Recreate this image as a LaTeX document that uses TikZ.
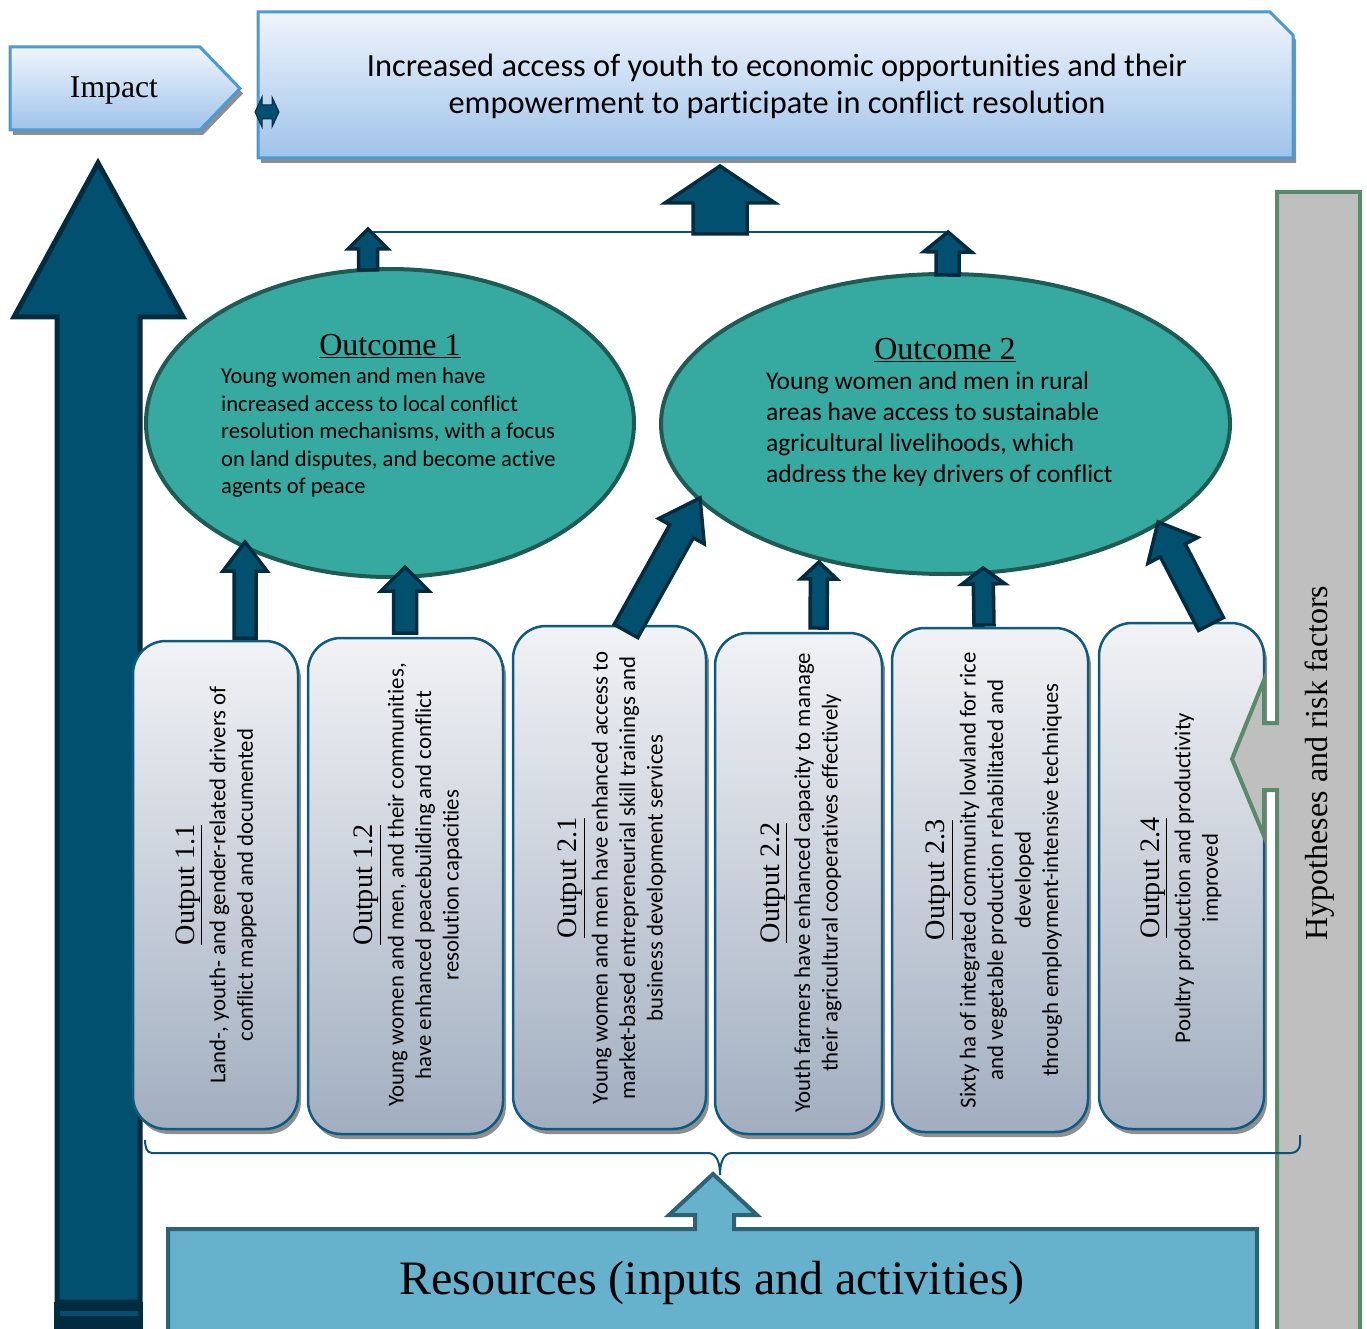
\documentclass[tikz,border=0pt]{standalone}
\usepackage{fontspec}
\setmainfont{Liberation Serif}
\newfontfamily\bodysans[Ligatures=NoCommon]{Carlito}
\usetikzlibrary{calc,shapes.geometric,shadows}

\definecolor{navyfill}{HTML}{02506F}
\definecolor{navyline}{HTML}{012B3E}
\definecolor{ovalfill}{HTML}{36AAA0}
\definecolor{ovalline}{HTML}{1D5B53}
\definecolor{boxtop}{HTML}{F1F2F5}
\definecolor{boxbottom}{HTML}{A1AEC0}
\definecolor{boxline}{HTML}{0E5A80}
\definecolor{goaltop}{HTML}{F0F5FC}
\definecolor{goalbottom}{HTML}{9FC3EA}
\definecolor{goalline}{HTML}{4A9AD4}
\definecolor{resfill}{HTML}{66B1CB}
\definecolor{resline}{HTML}{2D6274}
\definecolor{riskfill}{HTML}{BFBFBF}
\definecolor{riskline}{HTML}{5B8A6B}
\definecolor{shadegray}{HTML}{8E8E8E}
\definecolor{linkblue}{HTML}{0B5277}

% block arrow: base point, tip point, half shaft width, half head width, head length
\newcommand{\liftarrow}[5]{%
  \coordinate (la-h) at ($(#2)!#5!(#1)$);
  \draw[liftarrow] ($(#1)!#3!90:(#2)$) -- ($(la-h)!#3!90:(#2)$) -- ($(la-h)!#4!90:(#2)$) -- (#2)
    -- ($(la-h)!#4!-90:(#2)$) -- ($(la-h)!#3!-90:(#2)$) -- ($(#1)!#3!-90:(#2)$) -- cycle;
}
\newcommand{\outtitle}[1]{{\rmfamily\fontsize{28.2}{31}\selectfont\underline{#1}}}
\newcommand{\ovaltitle}[1]{{\rmfamily\fontsize{32}{35}\selectfont\underline{#1}}}

\tikzset{
  liftarrow/.style={fill=navyfill, draw=navyline, line width=3.5pt, line join=miter},
  flatshadow/.style={drop shadow={shadow xshift=3pt, shadow yshift=-5pt, fill=shadegray, opacity=1}},
  outbox/.style={rectangle, rounded corners=33pt, top color=boxtop, bottom color=boxbottom,
    draw=boxline, line width=2.5pt, flatshadow, inner sep=0pt},
  outtext/.style={rotate=90, align=center, inner sep=0pt,
    font=\bodysans\fontsize{22.8}{27.5}\selectfont},
  oval/.style={ellipse, fill=ovalfill, draw=ovalline, line width=4pt, inner sep=0pt},
  ovaltext/.style={align=left, anchor=west, inner sep=0pt},
}

\begin{document}
\begin{tikzpicture}[x=1pt, y=-1pt]
\useasboundingbox (0,0) rectangle (1367,1329);

% long impact arrow on the left
\draw[fill=navyfill, draw=navyline, line width=5pt, line join=miter]
  (57,1302) -- (57,317) -- (14,317) -- (98,163) -- (183,317) -- (140,317) -- (140,1302) -- cycle;
\fill[navyline] (54,1302) rectangle (143,1329);
\fill[navyfill] (60,1311) rectangle (138,1316);

% goal banner
\path[top color=goaltop, bottom color=goalbottom, draw=goalline, line width=3pt, flatshadow]
  (258,12) -- (1270,12) -- (1293,35) -- (1293,158) -- (258,158) -- cycle;
\node[align=center, inner sep=0pt, font=\bodysans\fontsize{32.4}{37}\selectfont] (goal) at (777,86)
  {Increased access of youth to economic opportunities and their\\
   empowerment to participate in conflict resolution};

% impact label
\path[top color=goaltop, bottom color=goalbottom, draw=goalline, line width=3pt, flatshadow]
  (10,47) -- (200,47) -- (240,88.5) -- (200,130) -- (10,130) -- cycle;
\node[inner sep=0pt, font=\fontsize{31.7}{35}\selectfont] (impact) at (114,90) {Impact};

% small double-headed marker at the banner edge
\coordinate (dbl) at (267,112);
\draw[fill=navyfill, draw=navyline, line width=1pt]
  ($(dbl)+(-12,0)$) -- ($(dbl)+(-5,-15)$) -- ($(dbl)+(-5,-7)$) -- ($(dbl)+(5,-7)$) -- ($(dbl)+(5,-15)$)
  -- ($(dbl)+(12,0)$) -- ($(dbl)+(5,15)$) -- ($(dbl)+(5,7)$) -- ($(dbl)+(-5,7)$) -- ($(dbl)+(-5,15)$) -- cycle;

% outcomes
\node[oval, minimum width=488pt, minimum height=308pt] (oc1) at (390,423) {};
\node[oval, minimum width=569pt, minimum height=300pt] (oc2) at (945.5,424) {};

\node[inner sep=0pt] (oc1t) at (390,346) {\ovaltitle{Outcome 1}};
\node[ovaltext, font=\bodysans\fontsize{22.6}{27.5}\selectfont] (oc1b) at (221,433)
  {Young women and men have\\ increased access to local conflict\\ resolution mechanisms, with a focus\\
   on land disputes, and become active\\ agents of peace};
\node[inner sep=0pt] (oc2t) at (945,350) {\ovaltitle{Outcome 2}};
\node[ovaltext, font=\bodysans\fontsize{25.5}{31}\selectfont] (oc2b) at (766,429.5)
  {Young women and men in rural\\ areas have access to sustainable\\ agricultural livelihoods, which\\
   address the key drivers of conflict};

% outputs
\node[outbox, minimum width=165pt, minimum height=488pt] (o11) at (215.5,885) {};
\node[outbox, minimum width=195pt, minimum height=496pt] (o12) at (405.5,886) {};
\node[outbox, minimum width=193pt, minimum height=503pt] (o21) at (609.5,877.5) {};
\node[outbox, minimum width=167pt, minimum height=501pt] (o22) at (798.5,883.5) {};
\node[outbox, minimum width=196pt, minimum height=504pt] (o23) at (990,880) {};
\node[outbox, minimum width=165pt, minimum height=506pt] (o24) at (1181.5,876) {};

\node[outtext] (t11) at (216,885) {\outtitle{Output 1.1}\\[3.5pt]
  Land-, youth- and gender-related drivers of\\ conflict mapped and documented};
\node[outtext] (t12) at (408,885) {\outtitle{Output 1.2}\\[3.5pt]
  Young women and men, and their communities,\\ have enhanced peacebuilding and conflict\\ resolution capacities};
\node[outtext] (t21) at (612,878) {\outtitle{Output 2.1}\\[3.5pt]
  Young women and men have enhanced access to\\ market-based entrepreneurial skill trainings and\\ business development services};
\node[outtext] (t22) at (801,883) {\outtitle{Output 2.2}\\[3.5pt]
  Youth farmers have enhanced capacity to manage\\ their agricultural cooperatives effectively};
\node[outtext] (t23) at (994,880) {\outtitle{Output 2.3}\\[3.5pt]
  Sixty ha of integrated community lowland for rice\\ and vegetable production rehabilitated and\\ developed\\ through employment-intensive techniques};
\node[outtext] (t24) at (1181,878) {\outtitle{Output 2.4}\\[3.5pt]
  Poultry production and productivity\\ improved};

% arrow end points
\coordinate (a11s) at (245,638);  \coordinate (a11t) at (245,542);
\coordinate (a12s) at (405,633);  \coordinate (a12t) at (405,567);
\coordinate (a21s) at (626,631);  \coordinate (a21t) at (700,498);
\coordinate (a22s) at (818.5,628); \coordinate (a22t) at (819,562);
\coordinate (a23s) at (984,625);  \coordinate (a23t) at (983,568);
\coordinate (a24s) at (1211,624); \coordinate (a24t) at (1158,522);
\coordinate (u1s) at (368,270);   \coordinate (u1t) at (368,229);
\coordinate (u2s) at (947.5,275); \coordinate (u2t) at (948,232);
\coordinate (gs) at (720,234);    \coordinate (gt) at (720,166);

% link joining both outcomes
\draw[linkblue, line width=2.2pt] (u1t |- 0,232) -- (u2t |- 0,232);

\liftarrow{gs}{gt}{27pt}{55pt}{37pt}
\liftarrow{u1s}{u1t}{9.5pt}{20pt}{20pt}
\liftarrow{u2s}{u2t}{11.5pt}{24pt}{20pt}
\liftarrow{a11s}{a11t}{11pt}{22pt}{29pt}
\liftarrow{a12s}{a12t}{11.5pt}{24pt}{24pt}
\liftarrow{a21s}{a21t}{13.5pt}{26pt}{38pt}
\liftarrow{a22s}{a22t}{8.5pt}{18pt}{17pt}
\liftarrow{a23s}{a23t}{10pt}{21.5pt}{16pt}
\liftarrow{a24s}{a24t}{14pt}{28pt}{32pt}

% hypotheses and risks bar with its pointer
\draw[fill=riskfill, draw=riskline, line width=4pt, line join=miter]
  (1277,192) -- (1360,192) -- (1360,1340) -- (1277,1340) -- (1277,790) -- (1264,790)
  -- (1264,836) -- (1232,759) -- (1264,680) -- (1264,723) -- (1277,723) -- cycle;
\node[rotate=90, inner sep=0pt, font=\fontsize{32}{36}\selectfont] (hyp) at (1320,763)
  {Hypotheses and risk factors};

% brace gathering the outputs
\draw[linkblue, line width=2pt]
  (145,1140) to[out=-90, in=180] (152,1153) -- (708,1153) to[out=0, in=90] (720,1175)
  to[out=90, in=180] (732,1153) -- (1291,1153) to[out=0, in=-90] (1300,1144) -- (1300,1135);

% resources box with its upward pointer
\draw[fill=resfill, draw=resline, line width=4pt, line join=miter]
  (168,1340) -- (168,1229) -- (695,1229) -- (695,1215) -- (669,1215) -- (713,1174)
  -- (757,1215) -- (734,1215) -- (734,1229) -- (1257,1229) -- (1257,1340) -- cycle;
\node[inner sep=0pt, font=\fontsize{48}{52}\selectfont] (res) at (712,1283)
  {Resources (inputs and activities)};

\end{tikzpicture}
\end{document}
